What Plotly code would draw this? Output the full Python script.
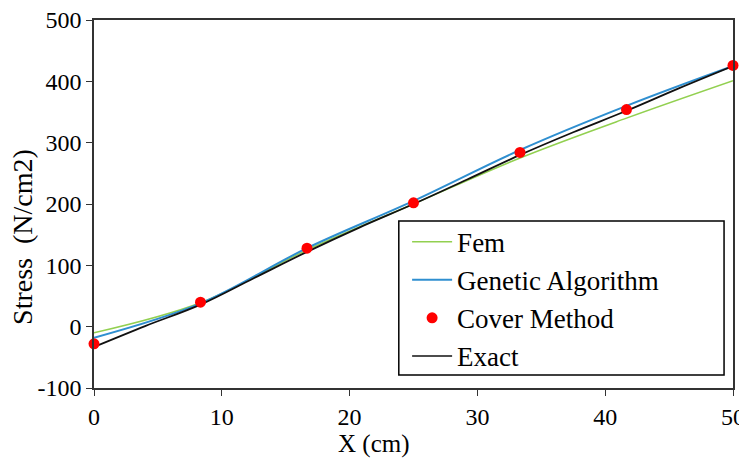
import plotly.graph_objects as go

x_nodes = [0, 8.333, 16.667, 25, 33.333, 41.667, 50]
fem = [-10, 39, 125, 200, 275, 340, 401]
genetic = [-18, 38, 128, 205, 288, 360, 425]
cover = [-28, 40, 128, 202, 284, 354, 426]
x_exact = [0, 4, 8.333, 12.5, 16.667, 20.8, 25, 29.2, 33.333, 37.5, 41.667, 45.8, 50]
exact = [-33, 1, 36, 79, 122, 162, 200, 240, 280, 317, 352, 389, 425]
x_ticks = [0, 10, 20, 30, 40, 50]
y_ticks = [-100, 0, 100, 200, 300, 400, 500]
y_ticktext = ["-100", "0", "100", "200", "300", "400", "500"]

FONT = "Liberation Serif"

fig = go.Figure()
fig.add_trace(go.Scatter(x=x_nodes, y=fem, mode="lines", name="Fem", legendgroup="a",
                         line=dict(color="#92d050", width=1.5, shape="spline")))
fig.add_trace(go.Scatter(x=x_nodes, y=genetic, mode="lines", name="Genetic Algorithm", legendgroup="b",
                         line=dict(color="#2f8fd0", width=2, shape="spline")))
fig.add_trace(go.Scatter(x=x_exact, y=exact, mode="lines", name="Exact",
                         line=dict(color="#111111", width=1.8, shape="spline"), showlegend=False))
fig.add_trace(go.Scatter(x=x_nodes, y=cover, mode="markers", name="Cover Method", legendgroup="c",
                         marker=dict(color="#ff0000", size=11), cliponaxis=False))
fig.add_trace(go.Scatter(x=[None], y=[None], mode="lines", name="Exact", legendgroup="d",
                         line=dict(color="#111111", width=1.5)))

fig.update_layout(
    width=739, height=453,
    margin=dict(l=86, r=14, t=12, b=73, autoexpand=False),
    paper_bgcolor="white", plot_bgcolor="white",
    font=dict(family=FONT, size=24, color="black"),
    showlegend=True,
    legend=dict(x=0.49, y=0.463, xanchor="left", yanchor="top",
                bgcolor="rgba(0,0,0,0)", font=dict(family=FONT, size=27),
                tracegroupgap=0, itemwidth=40),
    shapes=[dict(type="rect", xref="paper", yref="paper",
                 x0=0.477, x1=0.986, y0=0.035, y1=0.454,
                 line=dict(color="black", width=1.5), fillcolor="rgba(0,0,0,0)")],
    annotations=[
        dict(text="X (cm)", xref="paper", yref="paper", x=0.438, y=-0.152,
             xanchor="center", yanchor="middle", showarrow=False,
             font=dict(family=FONT, size=25)),
        dict(text="Stress  (N/cm2)", xref="paper", yref="paper", x=-0.113, y=0.41,
             xanchor="center", yanchor="middle", showarrow=False, textangle=-90,
             font=dict(family=FONT, size=28)),
    ],
)
fig.update_xaxes(range=[0, 50], tickvals=x_ticks, automargin=False, ticklabeloverflow="allow",
                 showline=True, linecolor="#333333", linewidth=1.5, mirror=True,
                 ticks="outside", ticklen=6, tickcolor="#333333", showgrid=False, zeroline=False,
                 tickfont=dict(family=FONT, size=24))
fig.update_yaxes(range=[-100, 500], tickvals=y_ticks, ticktext=y_ticktext, automargin=False,
                 ticklabeloverflow="allow",
                 showline=True, linecolor="#333333", linewidth=1.5, mirror=True,
                 ticks="outside", ticklen=6, tickcolor="#333333", showgrid=False, zeroline=False,
                 tickfont=dict(family=FONT, size=24))

fig.write_html("out.html")
